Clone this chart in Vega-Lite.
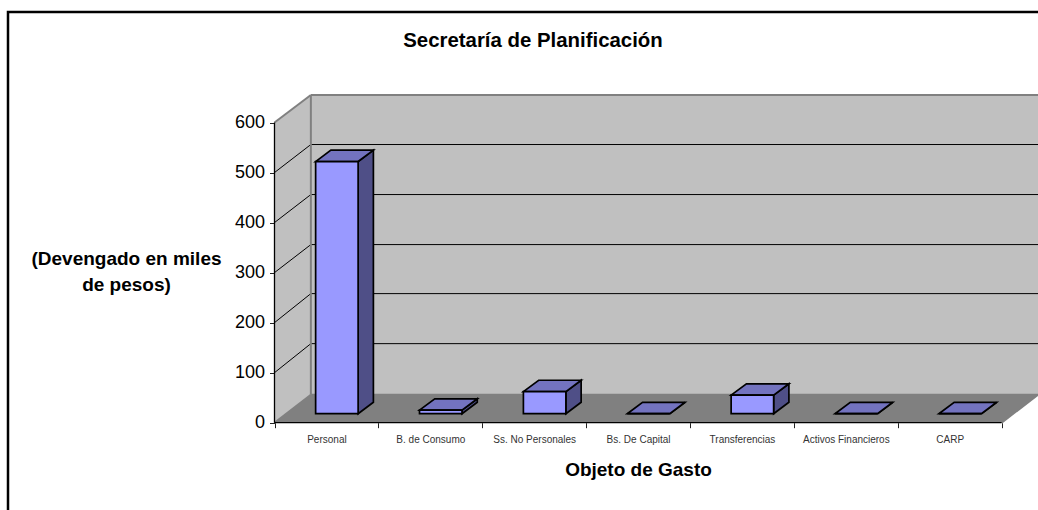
{
"$schema":"https://vega.github.io/schema/vega-lite/v6.json",
"autosize":{"type":"none"},
"padding":{"left":8,"top":12,"right":0,"bottom":0},
"width":1032,"height":500,
"background":"white",
"config":{"view":{"stroke":"black","strokeWidth":2.5,"fill":"white"},"font":"Liberation Sans"},
"title":{"text":"Secretaría de Planificación","font":"Liberation Sans","fontSize":20.4,"fontWeight":"bold","color":"black","anchor":"middle","offset":-39,"dx":9},
"datasets":{
 "barras":[
  {"objeto":"Personal","orden":0,"devengado":504},
  {"objeto":"B. de Consumo","orden":1,"devengado":7},
  {"objeto":"Ss. No Personales","orden":2,"devengado":44},
  {"objeto":"Bs. De Capital","orden":3,"devengado":0},
  {"objeto":"Transferencias","orden":4,"devengado":37},
  {"objeto":"Activos Financieros","orden":5,"devengado":0},
  {"objeto":"CARP","orden":6,"devengado":0}
 ],
 "rejilla":[
  {"v":100,"fondo":158},{"v":200,"fondo":258},{"v":300,"fondo":356},{"v":400,"fondo":456},{"v":500,"fondo":556}
 ]
},
"layer":[
 {"data":{"values":[{}]},"mark":{"type":"rect","fill":"#C0C0C0"},
  "encoding":{
   "x":{"datum":0.35,"type":"quantitative","scale":{"domain":[0,7.35],"range":[266.5,1030],"nice":false,"zero":false},
    "axis":{"values":[0,0.5,1,1.5,2,2.5,3,3.5,4,4.5,5,5.5,6,6.5,7],"grid":false,"domain":false,"offset":-89.3,"tickSize":5,"tickColor":"#222","tickOpacity":{"condition":{"test":"datum.value % 1 == 0","value":1},"value":0},
     "labelExpr":"datum.value % 1 == 0 ? '' : ['Personal','B. de Consumo','Ss. No Personales','Bs. De Capital','Transferencias','Activos Financieros','CARP'][floor(datum.value)]",
     "labelFont":"Liberation Sans","labelFontSize":10,"labelColor":"#333","labelPadding":7,"labelOverlap":false,"labelFlush":false,"labelBound":false,
     "title":"Objeto de Gasto","titleFont":"Liberation Sans","titleFontSize":19,"titleFontWeight":"bold","titleColor":"black","titleX":630,"titleY":52.3,"titleAlign":"center","titleBaseline":"alphabetic"}},
   "x2":{"datum":7.35},
   "y":{"datum":56,"type":"quantitative","scale":{"domain":[0,655],"range":[410.7,83],"nice":false,"zero":false},
    "axis":{"values":[0,100,200,300,400,500,600],"grid":false,"domain":false,"offset":-266.5,"tickSize":5,"tickColor":"#222","labelFont":"Liberation Sans","labelFontSize":18,"labelColor":"black","labelPadding":5,
     "title":["(Devengado en miles","de pesos)"],"titleFont":"Liberation Sans","titleFontSize":19,"titleFontWeight":"bold","titleColor":"black","titleAngle":0,"titleX":-148.5,"titleY":252.5,"titleAlign":"center","titleBaseline":"alphabetic","titleLineHeight":26}},
   "y2":{"datum":655}
  }},
 {"data":{"values":[{"x":0,"bajo":0,"alto":600},{"x":0.35,"bajo":56,"alto":655}]},
  "mark":{"type":"area","fill":"#C0C0C0"},
  "encoding":{
   "x":{"field":"x","type":"quantitative","scale":{"domain":[0,7.35],"range":[266.5,1030],"nice":false,"zero":false}},
   "y":{"field":"bajo","type":"quantitative","scale":{"domain":[0,655],"range":[410.7,83],"nice":false,"zero":false}},
   "y2":{"field":"alto"}
  }},
 {"data":{"values":[{"x":0,"bajo":0,"alto":0},{"x":0.35,"bajo":0,"alto":56},{"x":7,"bajo":0,"alto":56},{"x":7.35,"bajo":56,"alto":56}]},
  "mark":{"type":"area","fill":"#808080"},
  "encoding":{
   "x":{"field":"x","type":"quantitative","scale":{"domain":[0,7.35],"range":[266.5,1030],"nice":false,"zero":false}},
   "y":{"field":"bajo","type":"quantitative","scale":{"domain":[0,655],"range":[410.7,83],"nice":false,"zero":false}},
   "y2":{"field":"alto"}
  }},
 {"data":{"name":"rejilla"},"mark":{"type":"rule","stroke":"black","strokeWidth":1},
  "encoding":{
   "x":{"datum":0,"type":"quantitative","scale":{"domain":[0,7.35],"range":[266.5,1030],"nice":false,"zero":false}},
   "x2":{"datum":0.35},
   "y":{"field":"v","type":"quantitative","scale":{"domain":[0,655],"range":[410.7,83],"nice":false,"zero":false}},
   "y2":{"field":"fondo"}
  }},
 {"data":{"name":"rejilla"},"mark":{"type":"rule","stroke":"black","strokeWidth":1},
  "encoding":{
   "x":{"datum":0.35,"type":"quantitative","scale":{"domain":[0,7.35],"range":[266.5,1030],"nice":false,"zero":false}},
   "x2":{"datum":7.35},
   "y":{"field":"fondo","type":"quantitative","scale":{"domain":[0,655],"range":[410.7,83],"nice":false,"zero":false}}
  }},
 {"data":{"values":[{"a":0,"b":0.35,"c":600,"d":655},{"a":0.35,"b":7.35,"c":655,"d":655},{"a":0.35,"b":0.35,"c":56,"d":655},{"a":0.35,"b":7.35,"c":56,"d":56},{"a":0,"b":0.35,"c":0,"d":56},{"a":7,"b":7.35,"c":0,"d":56}]},
  "mark":{"type":"rule","stroke":"#808080","strokeWidth":2},
  "encoding":{
   "x":{"field":"a","type":"quantitative","scale":{"domain":[0,7.35],"range":[266.5,1030],"nice":false,"zero":false}},
   "x2":{"field":"b"},
   "y":{"field":"c","type":"quantitative","scale":{"domain":[0,655],"range":[410.7,83],"nice":false,"zero":false}},
   "y2":{"field":"d"}
  }},
 {"data":{"values":[{"a":0,"b":0,"c":0,"d":600},{"a":0,"b":7,"c":0,"d":0}]},
  "mark":{"type":"rule","stroke":"black","strokeWidth":1.3},
  "encoding":{
   "x":{"field":"a","type":"quantitative","scale":{"domain":[0,7.35],"range":[266.5,1030],"nice":false,"zero":false}},
   "x2":{"field":"b"},
   "y":{"field":"c","type":"quantitative","scale":{"domain":[0,655],"range":[410.7,83],"nice":false,"zero":false}},
   "y2":{"field":"d"}
  }},
 {"data":{"name":"barras"},
  "transform":[
   {"calculate":"[0,1]","as":"d"},{"flatten":["d"]},
   {"calculate":"datum.orden+0.805+datum.d*0.147","as":"px"},
   {"calculate":"18+datum.d*22.8","as":"py"},
   {"calculate":"18+datum.devengado+datum.d*22.8","as":"py2"}
  ],
  "mark":{"type":"area","fill":"#4F4F87","stroke":"black","strokeWidth":1.7,"strokeJoin":"miter"},
  "encoding":{
   "detail":{"field":"objeto"},
   "x":{"field":"px","type":"quantitative","scale":{"domain":[0,7.35],"range":[266.5,1030],"nice":false,"zero":false}},
   "y":{"field":"py","type":"quantitative","scale":{"domain":[0,655],"range":[410.7,83],"nice":false,"zero":false}},
   "y2":{"field":"py2"}
  }},
 {"data":{"name":"barras"},
  "transform":[
   {"calculate":"[0,1,2,3]","as":"t"},{"flatten":["t"]},
   {"calculate":"datum.orden+0.396+[0,0.147,0.409,0.556][datum.t]","as":"px"},
   {"calculate":"18+datum.devengado+[0,0,0,22.8][datum.t]","as":"py"},
   {"calculate":"18+datum.devengado+[0,22.8,22.8,22.8][datum.t]","as":"py2"}
  ],
  "mark":{"type":"area","fill":"#7373BF","stroke":"black","strokeWidth":1.7,"strokeJoin":"miter"},
  "encoding":{
   "detail":{"field":"objeto"},
   "x":{"field":"px","type":"quantitative","scale":{"domain":[0,7.35],"range":[266.5,1030],"nice":false,"zero":false}},
   "y":{"field":"py","type":"quantitative","scale":{"domain":[0,655],"range":[410.7,83],"nice":false,"zero":false}},
   "y2":{"field":"py2"}
  }},
 {"data":{"name":"barras"},
  "transform":[
   {"calculate":"datum.orden+0.396","as":"px"},{"calculate":"datum.orden+0.805","as":"px2"},
   {"calculate":"18+datum.devengado","as":"py2"},{"calculate":"18","as":"py"}
  ],
  "mark":{"type":"rect","fill":"#9999FF","stroke":"black","strokeWidth":1.7},
  "encoding":{
   "x":{"field":"px","type":"quantitative","scale":{"domain":[0,7.35],"range":[266.5,1030],"nice":false,"zero":false}},
   "x2":{"field":"px2"},
   "y":{"field":"py","type":"quantitative","scale":{"domain":[0,655],"range":[410.7,83],"nice":false,"zero":false}},
   "y2":{"field":"py2"}
  }}
]
}
